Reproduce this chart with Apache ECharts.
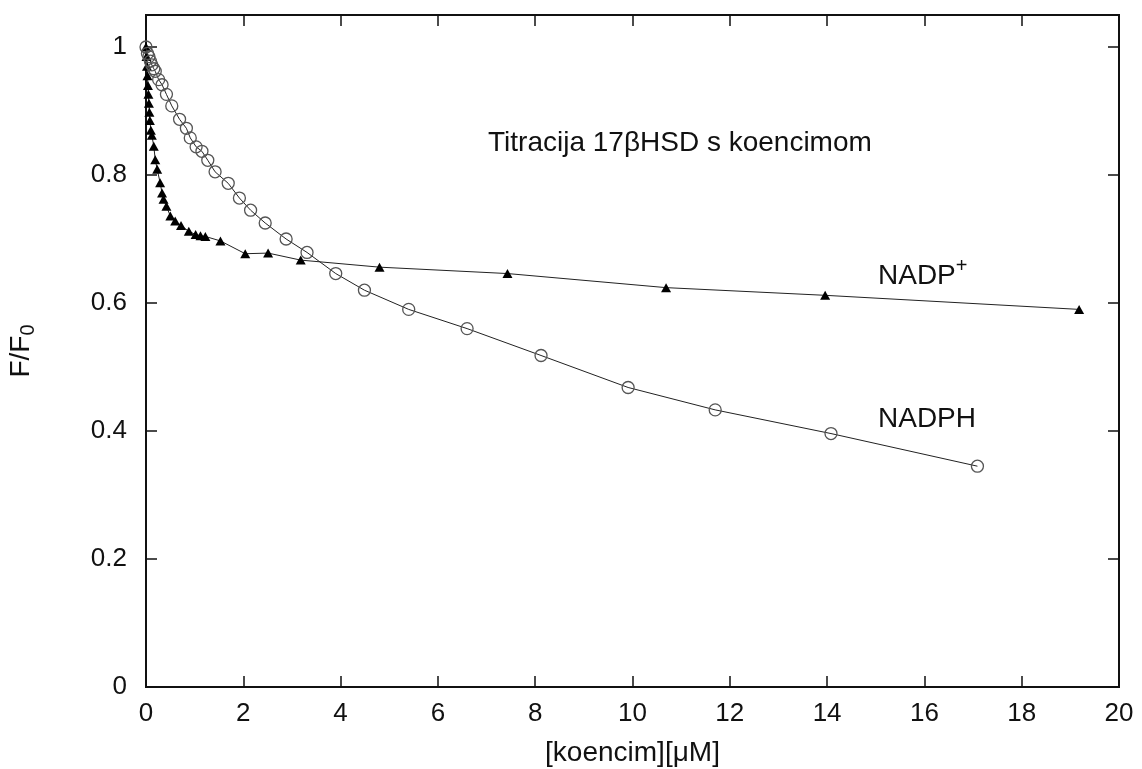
<!DOCTYPE html>
<html>
<head>
<meta charset="utf-8">
<script src="https://cdn.jsdelivr.net/npm/echarts@6/dist/echarts.min.js"></script>
<style>
  html, body { margin: 0; padding: 0; background: #fff; }
  #chart { width: 1142px; height: 769px; }
</style>
</head>
<body>
<div id="chart"></div>
<script>
// NADPH titracija (prazni krugovi)
var nadphX = [0, 0.03, 0.06, 0.09, 0.12, 0.16, 0.19, 0.26, 0.33, 0.42, 0.53, 0.69, 0.83, 0.91, 1.03, 1.15, 1.27, 1.42, 1.69, 1.92, 2.15, 2.45, 2.88, 3.31, 3.90, 4.49, 5.40, 6.60, 8.12, 9.91, 11.70, 14.08, 17.09];
var nadphY = [1.0, 0.99, 0.985, 0.978, 0.972, 0.966, 0.962, 0.949, 0.941, 0.926, 0.908, 0.887, 0.873, 0.858, 0.844, 0.837, 0.823, 0.805, 0.787, 0.764, 0.745, 0.725, 0.700, 0.679, 0.646, 0.620, 0.590, 0.560, 0.518, 0.468, 0.433, 0.396, 0.345];
// NADP+ titracija (puni trokuti)
var nadpX = [0, 0.01, 0.02, 0.03, 0.04, 0.05, 0.06, 0.07, 0.08, 0.10, 0.12, 0.16, 0.19, 0.23, 0.29, 0.33, 0.36, 0.42, 0.50, 0.60, 0.72, 0.88, 1.02, 1.12, 1.22, 1.53, 2.04, 2.51, 3.18, 4.80, 7.43, 10.69, 13.96, 19.18];
var nadpY = [1.0, 0.985, 0.97, 0.955, 0.94, 0.926, 0.912, 0.898, 0.885, 0.870, 0.862, 0.845, 0.824, 0.809, 0.788, 0.772, 0.762, 0.751, 0.736, 0.728, 0.721, 0.712, 0.707, 0.705, 0.704, 0.697, 0.677, 0.678, 0.667, 0.656, 0.646, 0.624, 0.612, 0.590];

var xMin = 0, xMax = 20, xStep = 2;
var yMin = 0, yMax = 1.05, yStep = 0.2;

var titleText = 'Titracija 17βHSD s koencimom';
var xName = '[koencim][μM]';

function pairs (xs, ys) {
  var res = [];
  for (var i = 0; i < xs.length; i++) {
    res.push([xs[i], ys[i]]);
  }
  return res;
}

var FONT = 'Liberation Sans';
var TXT = '#111';

var chart = echarts.init(document.getElementById('chart'), null, { renderer: 'canvas' });

// gnuplot stil: crtice prema unutra, na sve četiri strane
var tickStyle = { inside: true, length: 11, lineStyle: { color: '#111', width: 1.5 } };
var noLine = { show: false, onZero: false };

var option = {
  animation: false,
  backgroundColor: '#fff',
  textStyle: { fontFamily: FONT },
  grid: {
    left: 146, right: 23, top: 15, bottom: 82,
    outerBoundsMode: 'none',
    containLabel: false,
    show: true, borderColor: '#111', borderWidth: 2, backgroundColor: 'transparent'
  },
  xAxis: [
    {
      type: 'value', min: xMin, max: xMax, interval: xStep,
      position: 'bottom',
      name: xName, nameLocation: 'middle', nameGap: 52,
      nameTextStyle: { fontSize: 28, color: TXT, fontFamily: FONT },
      axisLine: noLine,
      axisTick: tickStyle,
      splitLine: { show: false },
      axisLabel: { fontSize: 26, color: TXT, margin: 14, fontFamily: FONT }
    },
    {
      type: 'value', min: xMin, max: xMax, interval: xStep,
      position: 'top',
      axisLine: noLine,
      axisTick: tickStyle,
      splitLine: { show: false },
      axisLabel: { show: false }
    }
  ],
  yAxis: [
    {
      type: 'value', min: yMin, max: yMax, interval: yStep,
      position: 'left',
      name: '{m|F/F}{s|0}', nameLocation: 'middle', nameGap: 108, nameRotate: 90,
      nameTextStyle: {
        color: TXT, fontFamily: FONT,
        rich: {
          m: { fontSize: 28, color: TXT, fontFamily: FONT, lineHeight: 34, verticalAlign: 'middle' },
          s: { fontSize: 20, color: TXT, fontFamily: FONT, lineHeight: 34, verticalAlign: 'bottom' }
        }
      },
      axisLine: noLine,
      axisTick: tickStyle,
      splitLine: { show: false },
      axisLabel: { fontSize: 26, color: TXT, margin: 19, fontFamily: FONT, showMaxLabel: false }
    },
    {
      type: 'value', min: yMin, max: yMax, interval: yStep,
      position: 'right',
      axisLine: noLine,
      axisTick: tickStyle,
      splitLine: { show: false },
      axisLabel: { show: false }
    }
  ],
  graphic: [
    {
      type: 'text', left: 488, top: 129,
      style: { text: titleText, fontSize: 28, fill: TXT, fontFamily: FONT }
    },
    {
      type: 'text', left: 878, top: 256,
      style: {
        text: '{m|NADP}{p|+}', fill: TXT, fontFamily: FONT,
        rich: {
          m: { fontSize: 28, fill: TXT, fontFamily: FONT, lineHeight: 34, verticalAlign: 'bottom' },
          p: { fontSize: 20, fill: TXT, fontFamily: FONT, lineHeight: 34, verticalAlign: 'top' }
        }
      }
    },
    {
      type: 'text', left: 878, top: 405,
      style: { text: 'NADPH', fontSize: 28, fill: TXT, fontFamily: FONT }
    }
  ],
  series: [
    {
      name: 'NADP+',
      type: 'line',
      xAxisIndex: 0, yAxisIndex: 0,
      data: pairs(nadpX, nadpY),
      symbol: 'triangle',
      symbolSize: [10, 9],
      lineStyle: { color: '#222', width: 1 },
      itemStyle: { color: '#000' },
      z: 3
    },
    {
      name: 'NADPH',
      type: 'line',
      xAxisIndex: 0, yAxisIndex: 0,
      data: pairs(nadphX, nadphY),
      symbol: 'circle',
      symbolSize: 12,
      lineStyle: { color: '#222', width: 1 },
      itemStyle: { color: 'rgba(0,0,0,0)', borderColor: '#555', borderWidth: 1.3 },
      z: 4
    }
  ]
};

chart.setOption(option);
</script>
</body>
</html>
